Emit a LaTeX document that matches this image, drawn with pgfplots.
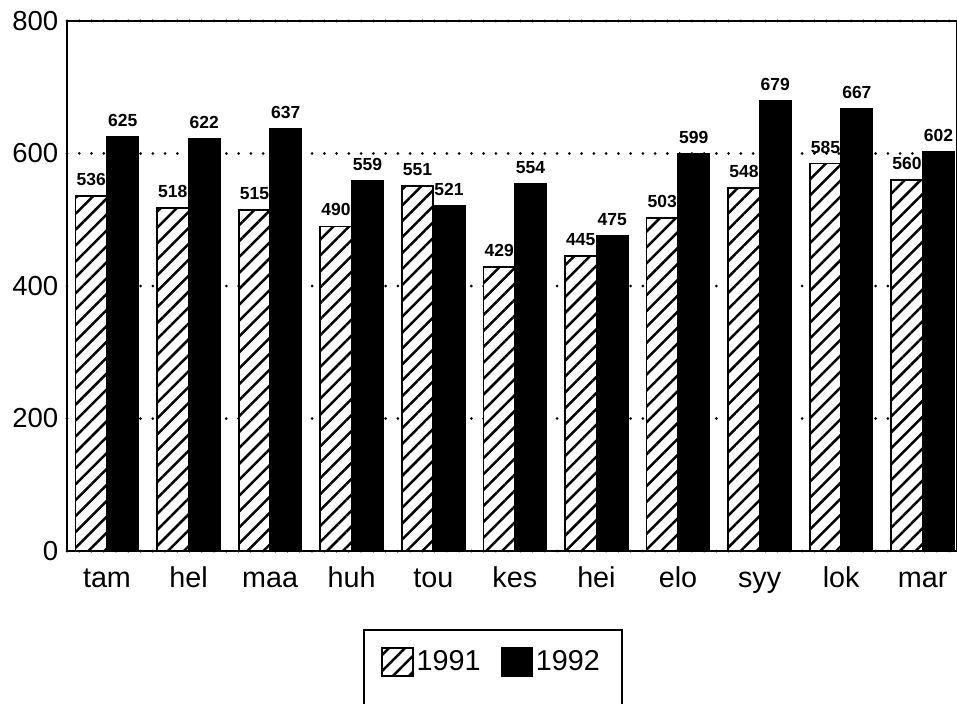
\documentclass[border=0pt]{standalone}
\usepackage{pgfplots}
\pgfplotsset{compat=1.18}
\usetikzlibrary{patterns.meta}
\usepackage{fontspec}
\setmainfont{Liberation Sans}
\begin{document}
\begin{tikzpicture}
\begin{axis}[
  scale only axis, width=356pt, height=212pt,
  xmin=-0.49, xmax=10.42, ymin=0, ymax=800,
  ytick={0,200,400,600,800},
  xtick={0,...,10},
  xticklabels={tam,hel,maa,huh,tou,kes,hei,elo,syy,lok,mar},
  major tick length=0pt,
  ymajorgrids,
  grid style={black, line width=1.2pt, dash pattern=on 0pt off 4.9pt, line cap=round},
  axis line style={line width=0.8pt},
  /pgf/number format/assume math mode=true,
  yticklabel style={font=\fontsize{11}{13}\selectfont},
  xticklabel style={font=\fontsize{11.5}{13}\selectfont, anchor=base, yshift=-14.4pt},
  ybar, bar width=0.385,
  clip=false,
  nodes near coords,
  nodes near coords style={font=\fontsize{7}{8}\selectfont\bfseries, yshift=0.4pt},
  legend columns=2,
  legend style={at={(0.3528,-0.2094)}, anchor=west, draw=none, inner sep=0pt,
    font=\fontsize{11.5}{13}\selectfont,
    nodes={inner xsep=1pt},
    /tikz/every odd column/.style={column sep=0pt},
    /tikz/every even column/.style={column sep=7pt}},
  legend image code/.code={\draw[#1,line width=0.7pt] (0pt,-5.6pt) rectangle (12.4pt,5.6pt);},
]
\addplot[draw=black, line width=0.7pt, fill=white, bar shift=-0.1925,
  postaction={pattern={Lines[angle=45, distance=4.5pt, line width=1pt]}}]
  coordinates {(0,536) (1,518) (2,515) (3,490) (4,551) (5,429) (6,445) (7,503) (8,548) (9,585) (10,560)};
\addlegendentry{1991}
\addplot[draw=black, fill=black, line width=0.7pt, bar shift=0.1925]
  coordinates {(0,625) (1,622) (2,637) (3,559) (4,521) (5,554) (6,475) (7,599) (8,679) (9,667) (10,602)};
\addlegendentry{1992}
\coordinate (O) at (rel axis cs:0,0);
\end{axis}
\draw[line width=0.8pt] ([shift={(118.8pt,-31.6pt)}]O) rectangle ([shift={(222pt,-67.6pt)}]O);
\pgfresetboundingbox
\path[use as bounding box] ([shift={(-26.8pt,-60.8pt)}]O) rectangle ([shift={(356pt,220.4pt)}]O);
\end{tikzpicture}
\end{document}
